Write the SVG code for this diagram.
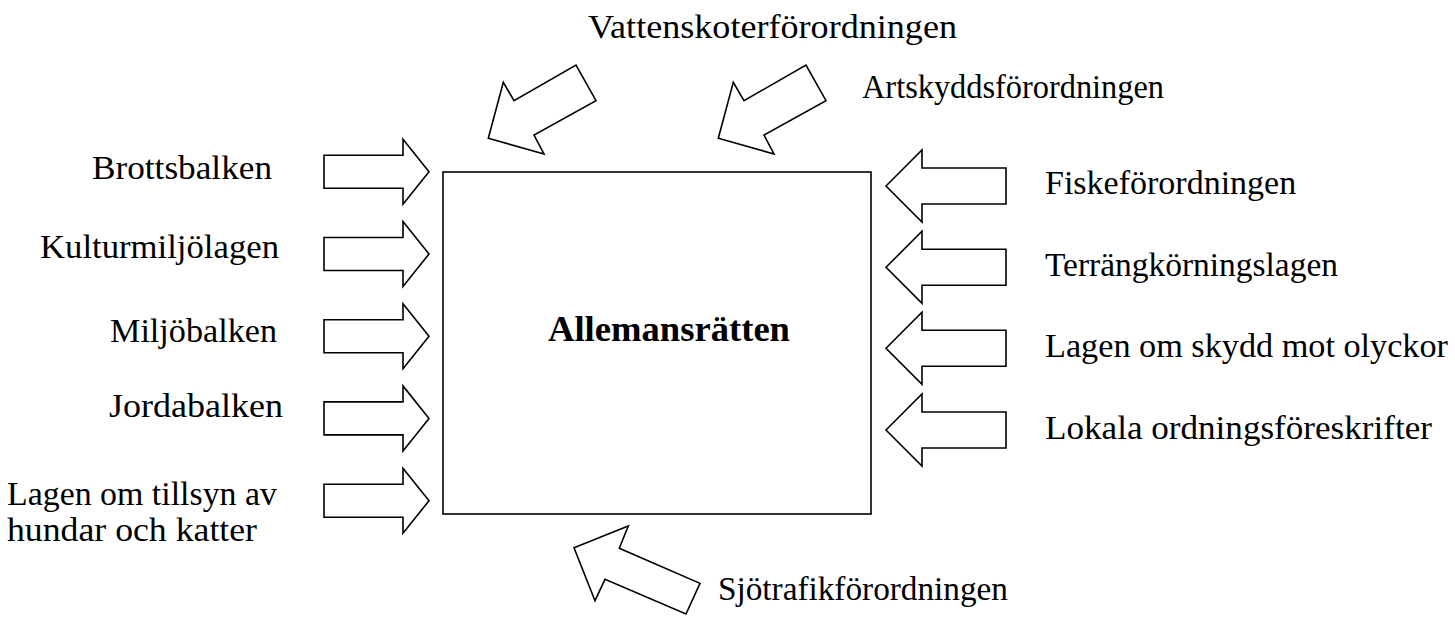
<svg xmlns="http://www.w3.org/2000/svg" xmlns:xlink="http://www.w3.org/1999/xlink" width="1455" height="617" viewBox="0 0 1455 617">
  <style>
    .shape { fill: #ffffff; stroke: #000000; stroke-width: 1.6; stroke-linejoin: miter; }
    .lbl { font-family: "Liberation Serif", "Times New Roman", serif; font-size: 34px; fill: #000000; }
    .title { font-family: "Liberation Serif", "Times New Roman", serif; font-size: 35px; font-weight: bold; fill: #000000; }
  </style>
  <defs>
    <path id="arrowR" d="M-105,-16.5 H-26 V-32.5 L0,0 L-26,32.5 V16.5 H-105 Z"/>
    <path id="arrowL" d="M0,0 L36,-36 V-18 H120 V18 H36 V36 Z"/>
    <path id="arrowD" d="M0,0 L15,-56 L25.7,-37.6 L87.7,-73.3 L107.7,-37.6 L45.7,-3.3 L55.7,15.7 Z"/>
  </defs>
  <rect width="1455" height="617" fill="#ffffff"/>

  <g id="main-node">
    <rect class="shape" x="443" y="172" width="428" height="342"/>
    <text class="title" x="548" y="341" textLength="242" lengthAdjust="spacingAndGlyphs">Allemansrätten</text>
  </g>

  <g id="connectors">
    <use href="#arrowR" xlink:href="#arrowR" class="shape" transform="translate(429,171.7)"/>
    <use href="#arrowR" xlink:href="#arrowR" class="shape" transform="translate(429,254)"/>
    <use href="#arrowR" xlink:href="#arrowR" class="shape" transform="translate(429,336.2)"/>
    <use href="#arrowR" xlink:href="#arrowR" class="shape" transform="translate(429,418.4)"/>
    <use href="#arrowR" xlink:href="#arrowR" class="shape" transform="translate(429,500.7)"/>
    <use href="#arrowL" xlink:href="#arrowL" class="shape" transform="translate(886,186)"/>
    <use href="#arrowL" xlink:href="#arrowL" class="shape" transform="translate(886,267.3)"/>
    <use href="#arrowL" xlink:href="#arrowL" class="shape" transform="translate(886,348.3)"/>
    <use href="#arrowL" xlink:href="#arrowL" class="shape" transform="translate(886,430)"/>
    <use href="#arrowD" xlink:href="#arrowD" class="shape" transform="translate(488.3,138.3)"/>
    <use href="#arrowD" xlink:href="#arrowD" class="shape" transform="translate(718.3,138.3)"/>
    <polygon class="shape" points="574,547.7 628.3,526 619.3,548.3 700,583.3 686,614 605,579.3 595,600.7"/>
  </g>

  <g id="node-vattenskoter"><text class="lbl" x="588" y="38" textLength="369" lengthAdjust="spacingAndGlyphs">Vattenskoterförordningen</text></g>
  <g id="node-artskydd"><text class="lbl" x="862" y="98" textLength="302" lengthAdjust="spacingAndGlyphs">Artskyddsförordningen</text></g>
  <g id="node-brottsbalken"><text class="lbl" x="92" y="179" textLength="180" lengthAdjust="spacingAndGlyphs">Brottsbalken</text></g>
  <g id="node-kulturmiljolagen"><text class="lbl" x="40" y="258" textLength="239" lengthAdjust="spacingAndGlyphs">Kulturmiljölagen</text></g>
  <g id="node-miljobalken"><text class="lbl" x="110" y="342" textLength="167" lengthAdjust="spacingAndGlyphs">Miljöbalken</text></g>
  <g id="node-jordabalken"><text class="lbl" x="109" y="417" textLength="174" lengthAdjust="spacingAndGlyphs">Jordabalken</text></g>
  <g id="node-tillsyn">
    <text class="lbl" x="7" y="505" textLength="270" lengthAdjust="spacingAndGlyphs">Lagen om tillsyn av</text>
    <text class="lbl" x="7" y="541" textLength="250" lengthAdjust="spacingAndGlyphs">hundar och katter</text>
  </g>
  <g id="node-fiske"><text class="lbl" x="1045" y="194">Fiskeförordningen</text></g>
  <g id="node-terrang"><text class="lbl" x="1045" y="276" textLength="293" lengthAdjust="spacingAndGlyphs">Terrängkörningslagen</text></g>
  <g id="node-olyckor"><text class="lbl" x="1045" y="357" textLength="403" lengthAdjust="spacingAndGlyphs">Lagen om skydd mot olyckor</text></g>
  <g id="node-lokala"><text class="lbl" x="1045" y="439" textLength="387" lengthAdjust="spacingAndGlyphs">Lokala ordningsföreskrifter</text></g>
  <g id="node-sjotrafik"><text class="lbl" x="718" y="600" textLength="290" lengthAdjust="spacingAndGlyphs">Sjötrafikförordningen</text></g>
</svg>
